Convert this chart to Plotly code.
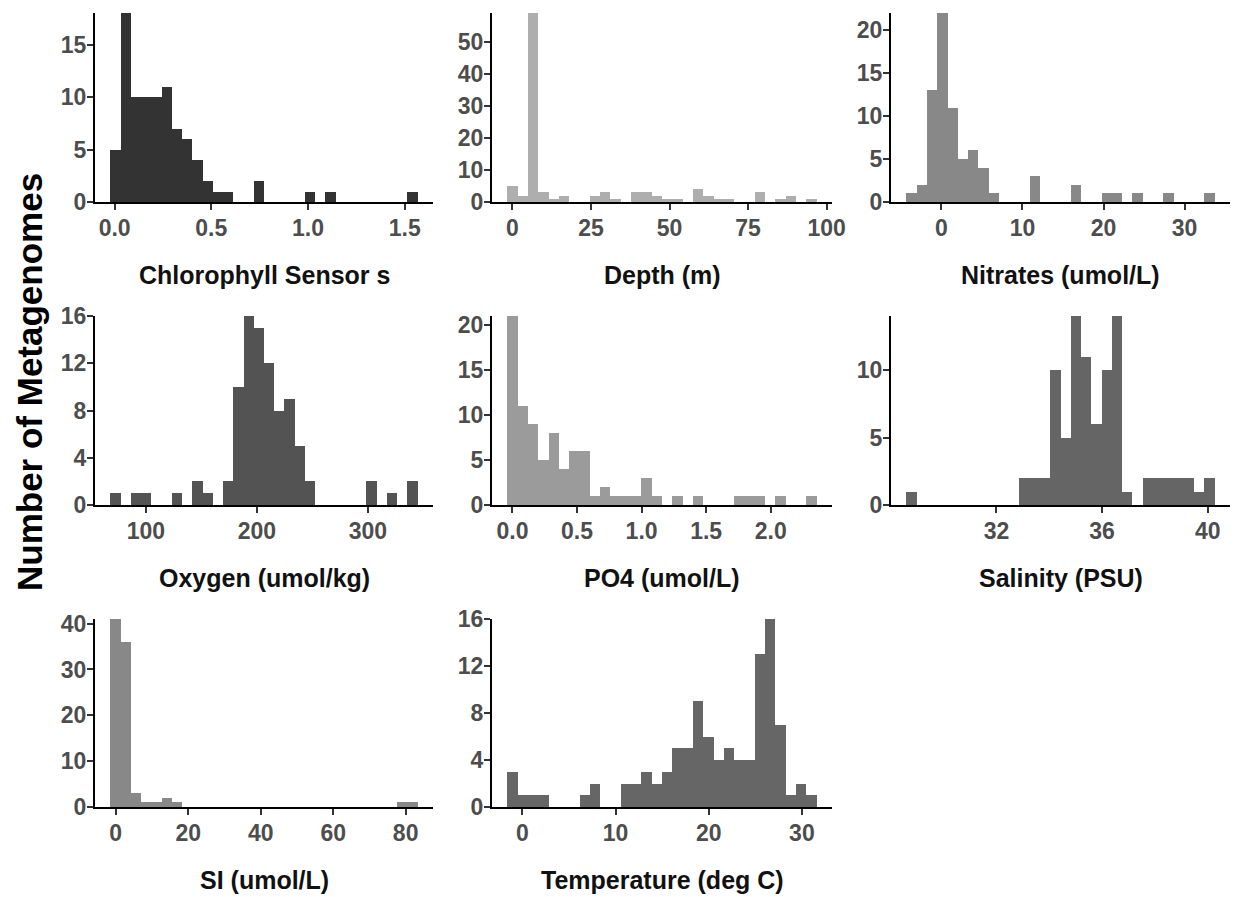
import plotly.graph_objects as go

W, H = 1235, 897

# ---- histogram data: 30 bins per variable, counts plus outer bin edges ----
chl_counts = [5, 18, 10, 10, 10, 11, 7, 6, 4, 2, 1, 1, 0, 0, 2, 0, 0, 0, 0, 1,
              0, 1, 0, 0, 0, 0, 0, 0, 0, 1]
chl_edges = (-0.022, 1.567)

depth_counts = [5, 2, 59, 3, 1, 2, 0, 0, 2, 3, 1, 0, 3, 3, 2, 1, 1, 0, 4, 2,
                1, 1, 0, 0, 3, 0, 1, 2, 0, 1]
depth_edges = (-1.6, 96.8)

nitrate_counts = [1, 2, 13, 22, 11, 5, 6, 4, 1, 0, 0, 0, 3, 0, 0, 0, 2, 0, 0, 1,
                  1, 0, 1, 0, 0, 1, 0, 0, 0, 1]
nitrate_edges = (-4.32, 33.7)

oxygen_counts = [1, 0, 1, 1, 0, 0, 1, 0, 2, 1, 0, 2, 10, 16, 15, 12, 8, 9, 5, 2,
                 0, 0, 0, 0, 0, 2, 0, 1, 0, 2]
oxygen_edges = (67.9, 344.9)

po4_counts = [21, 11, 9, 5, 8, 4, 6, 6, 1, 2, 1, 1, 1, 3, 1, 0, 1, 0, 1, 0,
              0, 0, 1, 1, 1, 0, 1, 0, 0, 1]
po4_edges = (-0.039, 2.355)

salinity_counts = [1, 0, 0, 0, 0, 0, 0, 0, 0, 0, 0, 2, 2, 2, 10, 5, 14, 11, 6, 10,
                   14, 1, 0, 2, 2, 2, 2, 2, 1, 2]
salinity_edges = (28.59, 40.26)

si_counts = [41, 36, 3, 1, 1, 2, 1, 0, 0, 0, 0, 0, 0, 0, 0, 0, 0, 0, 0, 0,
             0, 0, 0, 0, 0, 0, 0, 0, 1, 1]
si_edges = (-1.47, 83.3)

temp_counts = [3, 1, 1, 1, 0, 0, 0, 1, 2, 0, 0, 2, 2, 3, 2, 3, 5, 5, 9, 6,
               4, 5, 4, 4, 13, 16, 7, 1, 2, 1]
temp_edges = (-1.61, 31.57)

# ---- facet labels and axis ticks ----
labels = ["Chlorophyll Sensor s", "Depth (m)", "Nitrates (umol/L)",
          "Oxygen (umol/kg)", "PO4 (umol/L)", "Salinity (PSU)",
          "SI (umol/L)", "Temperature (deg C)"]

x_ticks = [
    ([0, 0.5, 1.0, 1.5], ["0.0", "0.5", "1.0", "1.5"]),
    ([0, 25, 50, 75, 100], ["0", "25", "50", "75", "100"]),
    ([0, 10, 20, 30], ["0", "10", "20", "30"]),
    ([100, 200, 300], ["100", "200", "300"]),
    ([0, 0.5, 1.0, 1.5, 2.0], ["0.0", "0.5", "1.0", "1.5", "2.0"]),
    ([32, 36, 40], ["32", "36", "40"]),
    ([0, 20, 40, 60, 80], ["0", "20", "40", "60", "80"]),
    ([0, 10, 20, 30], ["0", "10", "20", "30"]),
]
y_ticks = [
    [0, 5, 10, 15],
    [0, 10, 20, 30, 40, 50],
    [0, 5, 10, 15, 20],
    [0, 4, 8, 12, 16],
    [0, 5, 10, 15, 20],
    [0, 5, 10],
    [0, 10, 20, 30, 40],
    [0, 4, 8, 12, 16],
]

all_counts = [chl_counts, depth_counts, nitrate_counts, oxygen_counts,
              po4_counts, salinity_counts, si_counts, temp_counts]
all_edges = [chl_edges, depth_edges, nitrate_edges, oxygen_edges,
             po4_edges, salinity_edges, si_edges, temp_edges]

fills = ["#333333", "#AEAEAE", "#888888", "#535353",
         "#9B9B9B", "#656565", "#888888", "#666666"]

# ---- panel geometry (pixels) ----
col_px = [(95, 433), (492, 832), (891, 1230)]
row_px = [(13, 202), (316, 505), (619, 807)]

FAMILY = "Liberation Sans, Arial, Helvetica, sans-serif"
TICK_FONT = dict(family=FAMILY, size=23, color="#4D4D4D", weight="bold")
LABEL_FONT = dict(family=FAMILY, size=25, color="#111111", weight="bold")

fig = go.Figure()
layout = {}
annotations = []

for i, (counts, (lo, hi)) in enumerate(zip(all_counts, all_edges)):
    r, c = divmod(i, 3)
    n = len(counts)
    bw = (hi - lo) / n
    centers = [lo + bw * (k + 0.5) for k in range(n)]
    ax = "" if i == 0 else str(i + 1)

    fig.add_trace(go.Bar(
        x=centers, y=counts, width=[bw] * n,
        marker=dict(color=fills[i], line=dict(width=0)),
        xaxis="x" + ax, yaxis="y" + ax, showlegend=False,
        hoverinfo="x+y",
    ))

    pad = 0.05 * (hi - lo)
    x0, x1 = col_px[c]
    y0, y1 = row_px[r]
    tv, tt = x_ticks[i]
    common = dict(
        showline=True, linecolor="black", linewidth=2,
        ticks="outside", ticklen=6, tickwidth=2, tickcolor="#333333",
        showgrid=False, zeroline=False, tickfont=TICK_FONT,
        automargin=False,
    )
    layout["xaxis" + ax] = dict(
        domain=[x0 / W, x1 / W], anchor="y" + ax,
        range=[lo - pad, hi + pad],
        tickvals=tv, ticktext=tt, ticklabelstandoff=-2,
        **common,
    )
    layout["yaxis" + ax] = dict(
        domain=[1 - y1 / H, 1 - y0 / H], anchor="x" + ax,
        range=[0, max(counts)],
        tickvals=y_ticks[i], ticklabelstandoff=-4,
        **common,
    )
    annotations.append(dict(
        text=labels[i], x=(x0 + x1) / 2 / W, y=1 - (y1 + 73) / H,
        xref="paper", yref="paper", xanchor="center", yanchor="middle",
        showarrow=False, font=LABEL_FONT,
    ))

annotations.append(dict(
    text="Number of Metagenomes", x=29 / W, y=1 - 382 / H,
    xref="paper", yref="paper", xanchor="center", yanchor="middle",
    textangle=-90, showarrow=False,
    font=dict(family=FAMILY, size=35, color="black", weight="bold"),
))

fig.update_layout(
    template="none",
    width=W, height=H,
    margin=dict(l=0, r=0, t=0, b=0, autoexpand=False),
    paper_bgcolor="white", plot_bgcolor="white",
    bargap=0, annotations=annotations,
    **layout,
)

fig.write_html("out.html")
